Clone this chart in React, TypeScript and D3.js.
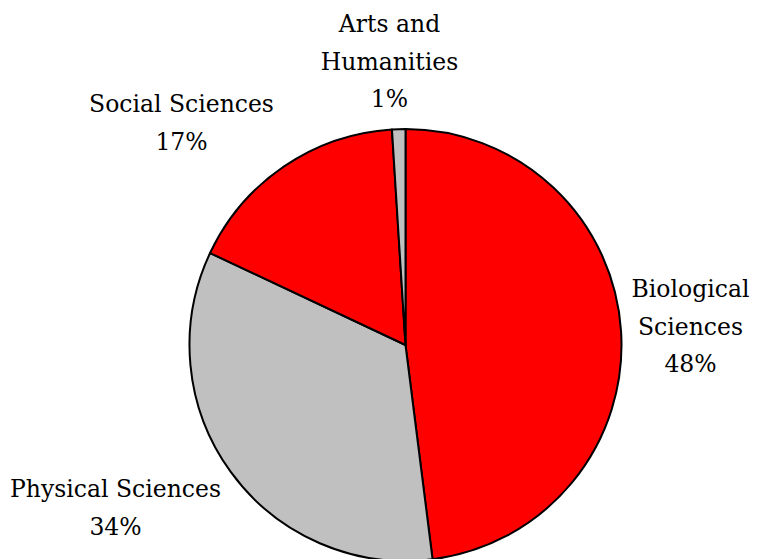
import React from 'react';
import * as d3 from 'd3';

// Data
const categories = ['Biological Sciences', 'Physical Sciences', 'Social Sciences', 'Arts and Humanities'];
const shares = [48, 34, 17, 1];
const labelLines = [
  ['Biological', 'Sciences', '48%'],
  ['Physical Sciences', '34%'],
  ['Social Sciences', '17%'],
  ['Arts and', 'Humanities', '1%'],
];
const sliceColors = ['#FF0000', '#C0C0C0', '#FF0000', '#C0C0C0'];

const width = 757;
const height = 559;
const cx = 405.5;
const cy = 345;
const radius = 216;
const lineHeight = 37.5;

// label block placement: x of text centre, baseline of first line (relative to pie centre)
const labelOffsets: [number, number][] = [
  [285, -48],
  [-290, 152],
  [-224, -233],
  [-16, -313],
];

export default function App() {
  const pie = d3.pie<number>().sort(null).value((d) => d);
  const arcs = pie(shares);
  const arc = d3.arc<d3.PieArcDatum<number>>().innerRadius(0).outerRadius(radius);

  return (
    <svg
      width={width}
      height={height}
      style={{ position: 'fixed', left: 0, top: 0, background: '#fff' }}
    >
      <g transform={`translate(${cx},${cy})`}>
        {arcs.map((a, i) => (
          <path
            key={categories[i]}
            d={arc(a) || ''}
            fill={sliceColors[i]}
            stroke="#000"
            strokeWidth={2}
            strokeLinejoin="round"
          />
        ))}
        {labelLines.map((lines, i) => (
          <text
            key={categories[i]}
            x={labelOffsets[i][0]}
            y={labelOffsets[i][1]}
            textAnchor="middle"
            fontSize={23.5}
            fill="#000"
            fontFamily="'DejaVu Serif', serif"
          >
            {lines.map((t, j) => (
              <tspan key={j} x={labelOffsets[i][0]} y={labelOffsets[i][1] + j * lineHeight}>
                {t}
              </tspan>
            ))}
          </text>
        ))}
      </g>
    </svg>
  );
}
